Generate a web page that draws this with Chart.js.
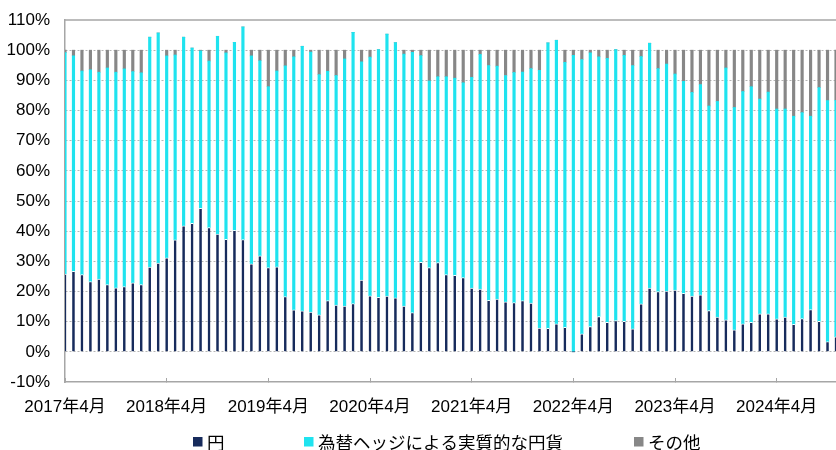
<!DOCTYPE html>
<html lang="ja">
<head>
<meta charset="utf-8">
<script src="https://cdn.jsdelivr.net/npm/chart.js@4.4.1/dist/chart.umd.min.js"></script>
<style>
html, body { margin: 0; padding: 0; background: #fff; overflow: hidden; }
#wrap { width: 836px; height: 450px; }
</style>
</head>
<body>
<div id="wrap"><canvas id="assetChart" width="836" height="450"></canvas></div>
<script>
// 月次 2017年4月～（最後の1本は画像の右端で切れている）
var startYear = 2017, startMonth = 4;

// 円 (%)
var yenData = [25.8, 26.7, 25.6, 23.3, 24.1, 22.3, 21.2, 21.6, 22.9, 22.3, 28.1, 29.4,
               31.2, 37.1, 41.8, 42.6, 47.6, 41.2, 39.0, 37.3, 40.3, 37.2, 29.2, 31.8,
               27.9, 28.2, 18.3, 13.9, 13.6, 13.2, 12.3, 17.0, 15.5, 15.2, 16.0, 23.8,
               18.6, 18.1, 18.5, 17.9, 15.2, 13.0, 29.7, 27.9, 29.6, 25.6, 25.4, 24.6,
               21.1, 20.8, 17.1, 17.5, 16.6, 16.3, 17.0, 16.2, 7.9, 7.8, 9.3, 8.1,
               0.0, 6.0, 8.4, 11.7, 9.8, 10.4, 10.1, 7.6, 15.9, 21.1, 20.0, 20.1,
               20.5, 19.4, 18.5, 18.9, 13.7, 11.5, 10.6, 7.3, 9.3, 9.8, 12.6, 12.6,
               10.9, 11.5, 9.1, 11.0, 14.0, 10.1, 3.4, 5.0];
// 為替ヘッジによる実質的な円貨 (%)
var hedgeData = [73.4, 71.4, 67.5, 70.2, 68.6, 71.8, 71.5, 72.2, 70.0, 70.2, 76.2, 76.3,
                 66.9, 61.3, 62.5, 58.1, 52.2, 55.2, 65.6, 61.8, 62.3, 70.5, 68.9, 64.7,
                 60.0, 64.9, 76.5, 83.9, 87.7, 86.2, 79.6, 76.0, 76.1, 81.9, 89.9, 72.3,
                 79.1, 82.1, 86.8, 84.6, 83.5, 86.3, 68.5, 61.9, 61.6, 65.6, 65.3, 64.6,
                 69.9, 77.8, 77.8, 77.2, 75.0, 76.3, 75.7, 77.7, 85.4, 94.6, 94.0, 87.9,
                 98.3, 90.9, 90.7, 86.1, 87.5, 89.8, 88.2, 87.3, 82.0, 81.2, 73.9, 75.3,
                 71.6, 70.3, 67.5, 69.7, 67.8, 71.5, 83.5, 73.7, 77.0, 78.1, 71.2, 73.5,
                 69.6, 69.0, 69.0, 68.3, 64.1, 77.5, 79.9, 78.4];
// その他 (%)
var otherData = [0.8, 1.9, 6.9, 6.5, 7.3, 5.9, 7.3, 6.2, 7.1, 7.5, 0, 0,
                 1.9, 1.6, 0, 0, 0.2, 3.6, 0, 0.9, 0, 0, 1.9, 3.5,
                 12.1, 6.9, 5.2, 2.2, 0, 0.6, 8.1, 7.0, 8.4, 2.9, 0, 3.9,
                 2.3, 0, 0, 0, 1.3, 0.7, 1.8, 10.2, 8.8, 8.8, 9.3, 10.8,
                 9.0, 1.4, 5.1, 5.3, 8.4, 7.4, 7.3, 6.1, 6.7, 0, 0, 4.0,
                 1.7, 3.1, 0.9, 2.2, 2.7, 0, 1.7, 5.1, 2.1, 0, 6.1, 4.6,
                 7.9, 10.3, 14.0, 11.4, 18.5, 17.0, 5.9, 19.0, 13.7, 12.1, 16.2, 13.9,
                 19.5, 19.5, 21.9, 20.7, 21.9, 12.4, 16.7, 16.6];

var seriesNames = ['円', '為替ヘッジによる実質的な円貨', 'その他'];
var seriesColors = ['#172b5c', '#1fe3ef', '#878787'];

var fontFamily = "'Liberation Sans', 'Noto Sans CJK JP', Arial, sans-serif";
var axisGray = '#a6a6a6';

var monthLabels = [];
for (var i = 0; i < yenData.length; i++) {
	var m = startMonth - 1 + i;
	monthLabels.push((startYear + Math.floor(m / 12)) + '年' + (m % 12 + 1) + '月');
}

function isApril(label) {
	return /年4月$/.test(label);
}

// 上の枠線と凡例を描く
var frameLegend = {
	id: 'frameLegend',
	afterDatasetsDraw: function(chart) {
		var ctx = chart.ctx, area = chart.chartArea;
		ctx.save();
		ctx.strokeStyle = axisGray;
		ctx.lineWidth = 1.5;
		ctx.beginPath();
		ctx.moveTo(area.left, area.top);
		ctx.lineTo(area.right, area.top);
		ctx.stroke();
		ctx.restore();
	},
	afterDraw: function(chart) {
		var ctx = chart.ctx;
		var legendX = [193, 304, 634];
		var legendY = 442;
		ctx.save();
		ctx.font = "17.5px 'Noto Sans CJK JP', sans-serif";
		ctx.textBaseline = 'middle';
		ctx.textAlign = 'left';
		chart.data.datasets.forEach(function(ds, i) {
			ctx.fillStyle = ds.backgroundColor;
			ctx.fillRect(legendX[i], legendY - 5, 9.5, 9.5);
			ctx.fillStyle = '#000';
			ctx.fillText(ds.label, legendX[i] + 14, legendY);
		});
		ctx.restore();
	}
};

var ctx = document.getElementById('assetChart').getContext('2d');
new Chart(ctx, {
	type: 'bar',
	data: {
		labels: monthLabels,
		datasets: [
			{ label: seriesNames[0], data: yenData, backgroundColor: seriesColors[0],
			  borderColor: '#ffffff', borderWidth: { top: 1, left: 0, right: 0, bottom: 0 }, borderSkipped: 'bottom' },
			{ label: seriesNames[1], data: hedgeData, backgroundColor: seriesColors[1], borderWidth: 0 },
			{ label: seriesNames[2], data: otherData, backgroundColor: seriesColors[2], borderWidth: 0 }
		]
	},
	options: {
		responsive: false,
		animation: false,
		devicePixelRatio: 1,
		barThickness: 2.5,
		layout: { padding: { top: 20, left: 0, right: 0, bottom: 0 } },
		plugins: {
			legend: { display: false },
			tooltip: { enabled: false }
		},
		scales: {
			x: {
				stacked: true,
				offset: false,
				grid: {
					offset: false,
					drawOnChartArea: false,
					drawTicks: true,
					tickLength: -4,
					color: function(c) {
						var lbl = monthLabels[c.index];
						return (lbl && isApril(lbl)) ? axisGray : 'rgba(0,0,0,0)';
					}
				},
				border: { display: true, color: axisGray, width: 1.5 },
				ticks: {
					autoSkip: false,
					maxRotation: 0,
					minRotation: 0,
					padding: 19,
					color: '#000',
					font: { family: fontFamily, size: 17 },
					callback: function(value) {
						var lbl = this.getLabelForValue(value);
						return isApril(lbl) ? lbl : '';
					}
				},
				afterFit: function(scale) {
					scale.height = 68;
					scale.paddingLeft = 0;
					scale.paddingRight = 0;
				}
			},
			y: {
				stacked: true,
				min: -10,
				max: 110,
				grid: {
					drawTicks: false,
					lineWidth: 1,
					color: function(c) {
						var v = c.tick ? c.tick.value : null;
						return (v === -10 || v === 110) ? 'rgba(0,0,0,0)' : '#b4b4b4';
					}
				},
				border: { display: true, color: axisGray, width: 1.5, dash: [2, 2] },
				ticks: {
					stepSize: 10,
					padding: 15,
					color: '#000',
					font: { family: fontFamily, size: 17 },
					callback: function(v) { return v + '%'; }
				},
				afterFit: function(scale) {
					scale.width = 65;
					scale.paddingTop = 0;
					scale.paddingBottom = 0;
				}
			}
		}
	},
	plugins: [frameLegend]
});
</script>
</body>
</html>
